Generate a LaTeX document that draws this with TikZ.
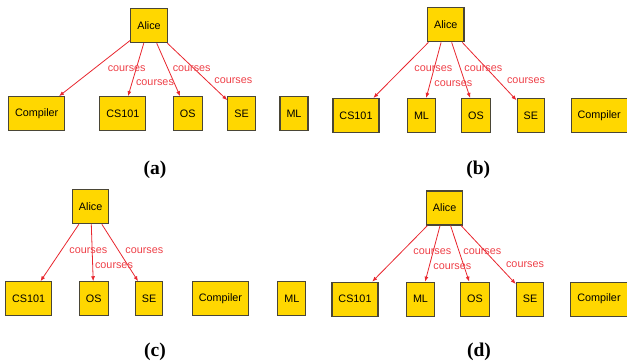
\documentclass[tikz,border=0pt]{standalone}
\usepackage{fontspec}
\newfontfamily\nodefont{Liberation Sans}
\newfontfamily\capfont{Liberation Serif}
\usetikzlibrary{positioning,arrows.meta,calc}
\definecolor{boxfill}{HTML}{FFD700}
\definecolor{boxline}{HTML}{4A4636}
\definecolor{edgered}{HTML}{E8262E}
\definecolor{labelred}{HTML}{EE4048}
\tikzset{>={Latex[length=5pt,width=4pt]}}
\tikzset{
  box/.style={draw=boxline, line width=1.1pt, fill=boxfill, minimum height=34pt,
              inner xsep=6.5pt, font=\nodefont\fontsize{10.8}{13}\selectfont},
  edge/.style={->, draw=edgered, line width=0.8pt},
  lbl/.style={text=labelred, inner sep=0pt, font=\nodefont\fontsize{10.8}{13}\selectfont},
  capt/.style={inner sep=0pt, font=\capfont\bfseries\fontsize{19.5}{22}\selectfont}
}

\begin{document}
\begin{tikzpicture}[x=1pt, y=-1pt]
        \useasboundingbox (0,0) rectangle (627,362);
        % (a)
        \node[box] (aAl) at (149,25.7) {Alice};
        \node[box] (aCo) at (36.7,113.7) {Compiler};
        \node[box] (aCs) at (122.8,113.7) {CS101};
        \node[box] (aOs) at (187.8,113.7) {OS};
        \node[box] (aSe) at (241.5,113.7) {SE};
        \node[box] (aMl) at (294,113.7) {ML};
        \draw[edge] (aAl) -- (aCo);
        \draw[edge] (aAl) -- (aCs);
        \draw[edge] (aAl) -- (aOs);
        \draw[edge] (aAl) -- (aSe);
        \node[lbl] (aL1) at (126.7,68.3) {courses};
        \node[lbl] (aL2) at (155,82.7) {courses};
        \node[lbl] (aL3) at (191.7,68.3) {courses};
        \node[lbl] (aL4) at (233.3,81) {courses};
        \node[capt] (capA) at (155,170) {(a)};

        % (b)
        \node[box] (bAl) at (445.8,24.8) {Alice};
        \node[box] (bCs) at (356,115.5) {CS101};
        \node[box] (bMl) at (421.5,115.5) {ML};
        \node[box] (bOs) at (476,115.5) {OS};
        \node[box] (bSe) at (530.8,115.5) {SE};
        \node[box] (bCo) at (599.2,115.5) {Compiler};
        \draw[edge] (bAl) -- (bCs);
        \draw[edge] (bAl) -- (bMl);
        \draw[edge] (bAl) -- (bOs);
        \draw[edge] (bAl) -- (bSe);
        \node[lbl] (bL1) at (433.3,68.3) {courses};
        \node[lbl] (bL2) at (453.3,83.3) {courses};
        \node[lbl] (bL3) at (483.3,68.3) {courses};
        \node[lbl] (bL4) at (526,81) {courses};
        \node[capt] (capB) at (478.3,170) {(b)};

        % (c)
        \node[box] (cAl) at (90.7,206.7) {Alice};
        \node[box] (cCs) at (28.7,298.8) {CS101};
        \node[box] (cOs) at (93.8,298.8) {OS};
        \node[box] (cSe) at (149.2,298.8) {SE};
        \node[box] (cCo) at (220.5,298.8) {Compiler};
        \node[box] (cMl) at (291.8,298.8) {ML};
        \draw[edge] (cAl) -- (cCs);
        \draw[edge] (cAl) -- (cOs);
        \draw[edge] (cAl) -- (cSe);
        \node[lbl] (cL1) at (88.3,250.7) {courses};
        \node[lbl] (cL2) at (114,266) {courses};
        \node[lbl] (cL3) at (144.3,250.7) {courses};
        \node[capt] (capC) at (155,351.7) {(c)};

        % (d)
        \node[box] (dAl) at (444.7,208) {Alice};
        \node[box] (dCs) at (355,299.2) {CS101};
        \node[box] (dMl) at (420.5,299.2) {ML};
        \node[box] (dOs) at (475,299.2) {OS};
        \node[box] (dSe) at (530,299.2) {SE};
        \node[box] (dCo) at (599,299.2) {Compiler};
        \draw[edge] (dAl) -- (dCs);
        \draw[edge] (dAl) -- (dMl);
        \draw[edge] (dAl) -- (dOs);
        \draw[edge] (dAl) -- (dSe);
        \node[lbl] (dL1) at (432.3,251.7) {courses};
        \node[lbl] (dL2) at (452.3,266.7) {courses};
        \node[lbl] (dL3) at (482.3,251.7) {courses};
        \node[lbl] (dL4) at (525,265) {courses};
        \node[capt] (capD) at (479,351.7) {(d)};
\end{tikzpicture}
\end{document}
